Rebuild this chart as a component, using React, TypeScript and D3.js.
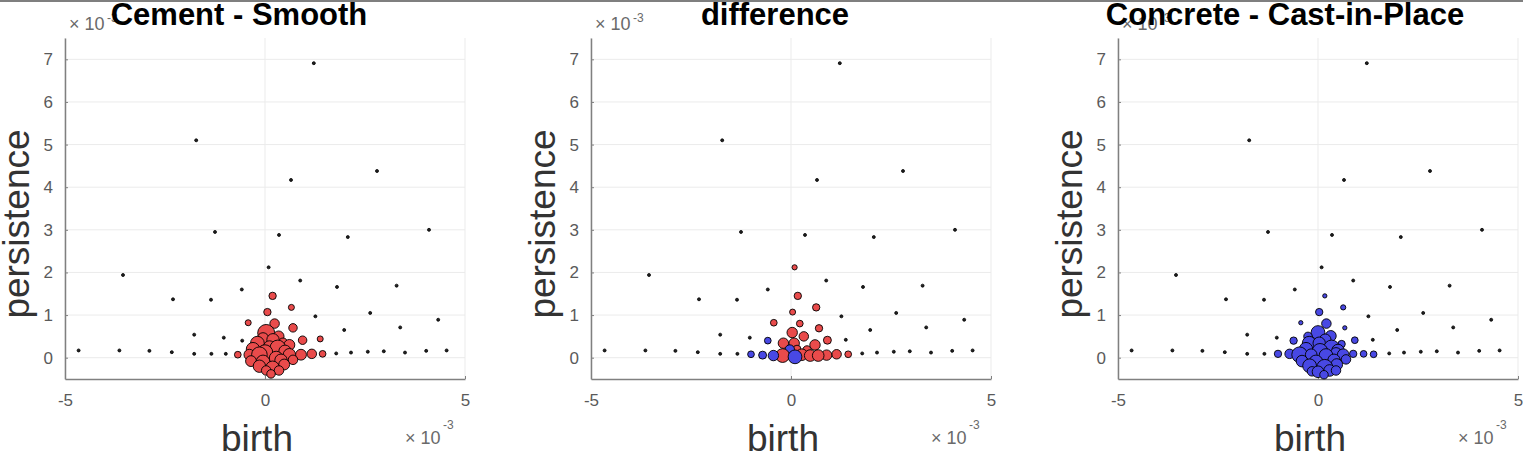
import React, { useEffect, useRef } from "react";
import * as d3 from "d3";

const W = 1523;
const H = 455;
const FONT = "'Liberation Sans', Arial, Helvetica, sans-serif";

// [birth, persistence] in units of 1e-3 : small features seen in all three diagrams
const sharedPoints: [number, number][] = [
  [1.22, 6.91], [-1.72, 5.1], [0.65, 4.17], [2.8, 4.38], [-1.25, 2.95],
  [0.35, 2.88], [2.07, 2.83], [4.1, 3.0], [-3.55, 1.94], [0.09, 2.12],
  [-2.3, 1.37], [-1.35, 1.36], [-0.58, 1.6], [0.88, 1.81], [1.8, 1.66],
  [3.29, 1.69], [4.33, 0.89], [2.63, 1.05], [1.98, 0.65], [-1.77, 0.54],
  [-1.03, 0.47], [1.26, 0.97], [3.38, 0.71], [-0.57, 0.4], [1.37, 0.42],
  [-4.66, 0.17], [-3.64, 0.17], [-2.89, 0.16], [-2.33, 0.13], [-1.77, 0.09],
  [-1.34, 0.09], [-0.98, 0.09], [1.78, 0.1], [2.15, 0.12], [2.57, 0.14],
  [2.97, 0.15], [3.5, 0.12], [4.03, 0.16], [4.54, 0.17],
];

// [birth, persistence, count]
const cementPoints: [number, number, number][] = [
  [0.19, 1.45, 6], [0.66, 1.18, 4], [0.06, 1.07, 6], [-0.42, 0.82, 4],
  [0.24, 0.8, 10], [0.7, 0.7, 8], [0.94, 0.41, 8], [1.38, 0.44, 4],
  [0.03, 0.58, 32], [0.34, 0.5, 13], [-0.19, 0.34, 21], [0.11, 0.26, 15],
  [0.32, 0.23, 27], [0.61, 0.3, 13], [0.9, 0.07, 13], [1.17, 0.09, 10],
  [1.44, 0.09, 5], [-0.68, 0.07, 5], [-0.39, 0.07, 13], [-0.14, 0.07, 27],
  [0.28, -0.01, 21], [0.61, 0.07, 17], [-0.14, -0.2, 17], [0.19, -0.24, 21],
  [0.48, -0.16, 13], [0.03, -0.3, 10], [0.35, -0.3, 10],
  [-0.3, 0.2, 20], [0.0, 0.12, 27], [0.5, 0.15, 17], [0.2, 0.42, 17],
  [-0.05, -0.1, 21], [0.4, -0.06, 17], [0.7, -0.05, 10], [-0.35, -0.08, 13],
  [0.15, -0.38, 8], [-0.05, 0.45, 15], [0.45, 0.35, 10],
];

const concretePoints: [number, number, number][] = [
  [0.17, 1.45, 2], [0.63, 1.18, 3], [0.03, 1.07, 6], [-0.43, 0.82, 2],
  [0.21, 0.8, 10], [0.67, 0.7, 2], [0.0, 0.59, 21], [0.32, 0.51, 13],
  [-0.61, 0.4, 6], [-0.22, 0.34, 21], [0.03, 0.34, 17], [0.34, 0.23, 27],
  [0.59, 0.32, 6], [0.92, 0.41, 5], [-0.46, 0.07, 27], [-0.71, 0.09, 10],
  [-1.0, 0.09, 6], [-0.17, 0.07, 15], [0.2, 0.05, 21], [0.45, 0.1, 15],
  [0.63, 0.07, 15], [0.88, 0.09, 6], [1.14, 0.09, 5], [1.39, 0.08, 5],
  [-0.21, -0.19, 21], [0.17, -0.23, 29], [0.47, -0.16, 15], [0.0, -0.33, 15],
  [0.29, -0.3, 15],
  [-0.3, 0.2, 20], [0.05, 0.15, 27], [0.5, 0.17, 17], [0.18, 0.42, 15],
  [-0.05, -0.1, 21], [0.4, -0.06, 17], [0.7, -0.04, 10], [-0.4, -0.08, 15],
  [0.15, -0.4, 8], [-0.15, -0.32, 10], [0.45, -0.3, 10], [-0.25, 0.5, 8],
];

// signed: positive = more in cement, negative = more in concrete
const differencePoints: [number, number, number][] = [
  [0.09, 2.12, 3], [0.17, 1.45, 6], [0.63, 1.18, 6], [0.04, 1.07, 4],
  [-0.43, 0.82, 5], [0.22, 0.8, 5], [0.7, 0.69, 6], [0.03, 0.59, 12],
  [0.32, 0.5, 10], [0.91, 0.41, 7], [-0.19, 0.34, 12], [0.08, 0.34, 12],
  [0.6, 0.3, 12], [-0.21, 0.05, 21], [0.27, 0.07, 15], [0.48, 0.05, 15],
  [0.68, 0.05, 15], [0.89, 0.06, 12], [1.14, 0.08, 10], [1.43, 0.08, 5],
  [0.4, 0.18, 8], [0.15, 0.2, 7],
  [-0.58, 0.4, -5], [-1.0, 0.08, -5], [-0.71, 0.06, -7], [-0.44, 0.05, -12],
  [-0.03, 0.19, -10], [0.1, 0.02, -21],
];

const xTicks = [-5, 0, 5];
const yTicks = [0, 1, 2, 3, 4, 5, 6, 7];

const RED = "#e94b4b";
const BLUE = "#4848e4";

const panels = [
  { title: "Cement - Smooth", points: cementPoints, left: 65, titleX: 239, sign: 1 },
  { title: "difference", points: differencePoints, left: 591, titleX: 775, sign: 0 },
  { title: "Concrete - Cast-in-Place", points: concretePoints, left: 1118, titleX: 1285, sign: -1 },
];

const App = () => {
  const ref = useRef<SVGSVGElement>(null);

  useEffect(() => {
    const svg = d3.select(ref.current);
    svg.selectAll("*").remove();

    const plotW = 400;
    const y = d3.scaleLinear().domain([-0.5, 7.5]).range([379, 38]);
    const r = d3.scaleSqrt().domain([0, 40]).range([0, 9.5]);

    svg.append("rect").attr("width", W).attr("height", H).attr("fill", "#fff");
    svg.append("rect").attr("width", W).attr("height", 2).attr("fill", "#7f7f7f");

    panels.forEach((p) => {
      const x = d3.scaleLinear().domain([-5, 5]).range([p.left, p.left + plotW]);
      const g = svg.append("g");

      // grid
      g.append("g")
        .selectAll("line")
        .data(yTicks)
        .join("line")
        .attr("x1", x(-5))
        .attr("x2", x(5))
        .attr("y1", (d) => y(d))
        .attr("y2", (d) => y(d))
        .attr("stroke", "#ebebeb");
      g.append("g")
        .selectAll("line")
        .data(xTicks)
        .join("line")
        .attr("x1", (d) => x(d))
        .attr("x2", (d) => x(d))
        .attr("y1", y(7.5))
        .attr("y2", y(-0.5))
        .attr("stroke", "#ebebeb");

      // axes
      const ya = g
        .append("g")
        .attr("transform", `translate(${p.left},0)`)
        .call(d3.axisLeft(y).tickValues(yTicks).tickSize(-3).tickSizeOuter(0).tickPadding(12));
      const xa = g
        .append("g")
        .attr("transform", `translate(0,${y(-0.5)})`)
        .call(
          d3
            .axisBottom(x)
            .tickValues(xTicks)
            .tickSize(-3)
            .tickSizeOuter(0)
            .tickPadding(15)
            .tickFormat((d) => String(d))
        );
      [ya, xa].forEach((a) => {
        a.select(".domain").attr("stroke", "#808080").attr("stroke-width", 1.5);
        a.selectAll(".tick line").attr("stroke", "#808080");
        a.selectAll("text")
          .attr("fill", "#5a5a5a")
          .style("font-family", FONT)
          .style("font-size", "17px");
      });

      // markers: shared small features, then the weighted ones from top to bottom
      g.append("g")
        .selectAll("circle")
        .data(sharedPoints)
        .join("circle")
        .attr("cx", (d) => x(d[0]))
        .attr("cy", (d) => y(d[1]))
        .attr("r", r(1))
        .attr("fill", "#222")
        .attr("stroke", "#000")
        .attr("stroke-width", 0.8);

      const sorted = [...p.points].sort((a, b) => b[1] - a[1]);
      g.append("g")
        .selectAll("circle")
        .data(sorted)
        .join("circle")
        .attr("cx", (d) => x(d[0]))
        .attr("cy", (d) => y(d[1]))
        .attr("r", (d) => r(Math.abs(d[2])))
        .attr("fill", (d) => (p.sign < 0 || (p.sign === 0 && d[2] < 0) ? BLUE : RED))
        .attr("stroke", "#000")
        .attr("stroke-width", 0.9);

      // exponent labels
      const ex = g.append("g").attr("fill", "#6a6a6a").style("font-family", FONT);
      ex.append("text").attr("x", p.left + 4).attr("y", 30).style("font-size", "18px").text("× 10");
      ex.append("text").attr("x", p.left + 42).attr("y", 22).style("font-size", "12px").text("-3");
      ex.append("text")
        .attr("x", p.left + plotW - 60)
        .attr("y", 444)
        .style("font-size", "18px")
        .text("× 10");
      ex.append("text")
        .attr("x", p.left + plotW - 22)
        .attr("y", 429)
        .style("font-size", "12px")
        .text("-3");

      // axis labels
      g.append("text")
        .attr("x", p.left + plotW / 2 - 8)
        .attr("y", 451)
        .attr("text-anchor", "middle")
        .attr("fill", "#333")
        .style("font-family", FONT)
        .style("font-size", "37px")
        .text("birth");
      g.append("text")
        .attr("transform", `translate(${p.left - 36},224) rotate(-90)`)
        .attr("text-anchor", "middle")
        .attr("fill", "#333")
        .style("font-family", FONT)
        .style("font-size", "37px")
        .text("persistence");

      // title
      g.append("text")
        .attr("x", p.titleX)
        .attr("y", 25)
        .attr("text-anchor", "middle")
        .attr("fill", "#000")
        .style("font-family", FONT)
        .style("font-weight", "bold")
        .style("font-size", "31px")
        .text(p.title);
    });
  }, []);

  return (
    <svg
      ref={ref}
      width={W}
      height={H}
      style={{ position: "absolute", left: 0, top: 0, display: "block" }}
    />
  );
};

export default App;
